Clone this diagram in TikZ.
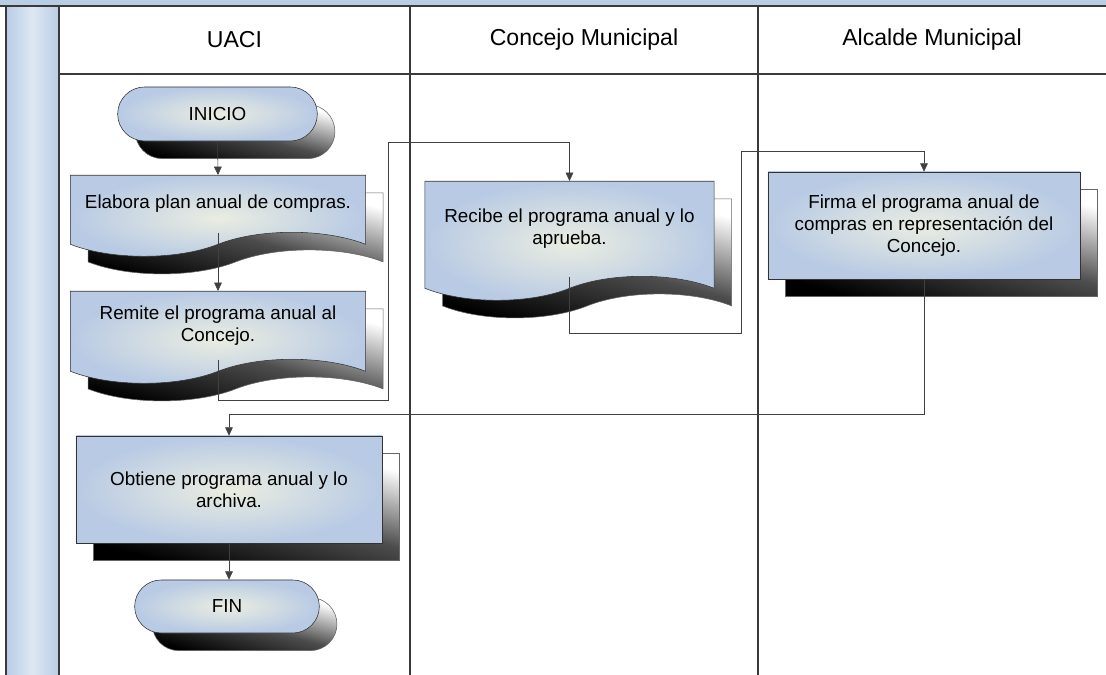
\documentclass[tikz,border=0pt]{standalone}
\usepackage{fontspec}
\setmainfont{Liberation Sans}
\usetikzlibrary{positioning,arrows.meta,shapes.misc,shapes.symbols,shadows}

\definecolor{laneblue}{HTML}{B9CDE5}
\definecolor{lanepale}{HTML}{DDE7F3}
\definecolor{boxblue}{HTML}{B8CAE4}
\definecolor{boxcore}{HTML}{EAEDE1}
\definecolor{gridgray}{HTML}{3A3A3A}

\begin{document}
\begin{tikzpicture}[
  x=0.025cm, y=-0.025cm,
  every node/.style={font=\fontsize{13.4}{15.5}\selectfont},
  boxshadow/.style={general shadow={shadow xshift=0.44cm, shadow yshift=-0.44cm,
      draw=black!60, shading=axis, top color=white, bottom color=black, middle color=black!70,
      shading angle=-15}},
  body/.style={draw=black!80, thin, shading=radial, inner color=boxcore, outer color=boxblue,
      align=center, boxshadow},
  terminal/.style={body, rounded rectangle, minimum width=5.225cm, minimum height=1.35cm},
  docbox/.style={body, tape, tape bend top=none, tape bend bottom=in and out,
      tape bend height=0.6cm, minimum width=7.375cm, anchor=north},
  taskbox/.style={body, rectangle, minimum height=2.675cm},
  header/.style={font=\fontsize{16.4}{19}\selectfont},
  lane/.style={draw=gridgray, line width=1pt},
  link/.style={draw=black!75, -{Triangle[length=6pt,width=5.5pt]}}
]
\useasboundingbox (0,0) rectangle (1106,675);

% swimlanes
\fill[laneblue] (0,0) rectangle (1106,6);
\shade[left color=laneblue, right color=laneblue, middle color=lanepale] (6,6) rectangle (59,675);
\draw[lane] (0,6) -- (1106,6);
\draw[lane] (6,6) -- (6,675);
\draw[lane] (59,74) -- (1106,74);
\foreach \x in {59,410,758}
  \draw[lane] (\x,6) -- (\x,675);

\node[header] (uaci) at (234.5,40) {UACI};
\node[header] (concejo) at (584,40) {Concejo Municipal};
\node[header] (alcalde) at (932,40) {Alcalde Municipal};

% steps
\node[terminal] (inicio) at (217.5,114) {INICIO};
\node[docbox, minimum height=2.025cm] (elabora) at (218,175) {Elabora plan anual de compras.};
\node[docbox, minimum height=2.3cm] (remite) at (218,291) {Remite el programa anual al\\Concejo.};
\node[docbox, minimum width=7.225cm, minimum height=2.975cm] (recibe) at (569.5,181)
  {Recibe el programa anual y lo\\aprueba.};
\node[taskbox, minimum width=7.8cm] (firma) at (924,225.5)
  {Firma el programa anual de\\compras en representación del\\Concejo.};
\node[taskbox, minimum width=7.65cm] (obtiene) at (229,489.5) {Obtiene programa anual y lo\\archiva.};
\node[terminal, minimum width=4.85cm, minimum height=1.325cm] (fin) at (227,606.5) {FIN};

% bends of the long connectors
\coordinate (hopA) at (388,400);
\coordinate (hopB) at (388,142);
\coordinate (hopC) at (741,333);
\coordinate (hopD) at (741,151);
\coordinate (hopE) at (229,414);

\draw[link] (inicio.south) -- (elabora.north);
\draw[link] (elabora.south) -- (remite.north);
\draw[link] (remite.south) |- (hopA) -- (hopB) -| (recibe.north);
\draw[link] (recibe.south) |- (hopC) -- (hopD) -| (firma.north);
\draw[link] (firma.south) |- (hopE) -| (obtiene.north);
\draw[link] (obtiene.south) -- (obtiene.south |- fin.north);

\end{tikzpicture}
\end{document}
